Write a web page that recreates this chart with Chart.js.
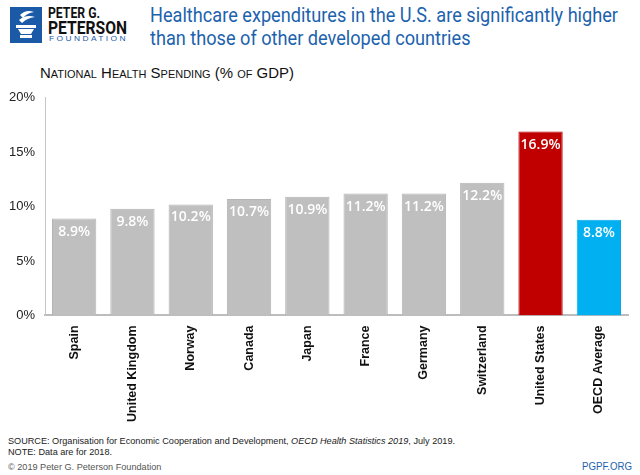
<!DOCTYPE html>
<html>
<head>
<meta charset="utf-8">
<script src="https://cdn.jsdelivr.net/npm/chart.js@4"></script>
<style>
  body { margin: 0; width: 640px; height: 475px; background: #fff; position: relative; overflow: hidden; font-family: "Liberation Sans", Arial, sans-serif; }
  .abs { position: absolute; white-space: nowrap; transform-origin: 0 0; }
  #logo { left: 10px; top: 7px; width: 32px; height: 36px; background: #1b5aa6; }
  #org1 { left: 48px; top: 5px; font: bold 14px Roboto, sans-serif; color: #111; }
  #org2 { left: 48px; top: 16px; font: bold 19px Roboto, sans-serif; color: #111; }
  #org3 { left: 49px; top: 34px; font: 8px "Liberation Sans", sans-serif; letter-spacing: 2.3px; color: #1b5aa6; }
  .title { left: 150px; font: 20px Roboto, sans-serif; color: #1c62ad; }
  #subtitle { left: 40px; top: 64px; font: 15px "Liberation Sans", sans-serif; font-variant: small-caps; color: #111; }
  #chartbox { left: 0; top: 80px; width: 640px; height: 352px; }
  .foot { left: 8px; font: 9.5px "Liberation Sans", sans-serif; color: #222; }
  #pgpf { left: 582px; top: 461px; font: 10px "Liberation Sans", sans-serif; color: #1c62ad; }
</style>
</head>
<body>
<div id="logo" class="abs">
  <svg width="32" height="36" viewBox="0 0 32 36">
    <path d="M10 8 Q16 2 24 5 Q17 6 13 11 Z" fill="#fff"/>
    <path d="M9 13 Q16 7 25 10 Q17 11 12 16 Z" fill="#fff"/>
    <rect x="6" y="18" width="20" height="3" fill="#fff"/>
    <path d="M8 22 L24 22 L21 27 L11 27 Z" fill="#fff"/>
    <rect x="10" y="28" width="12" height="3" fill="#fff"/>
  </svg>
</div>
<div id="org1" class="abs" data-w="52">PETER G.</div>
<div id="org2" class="abs" data-w="79">PETERSON</div>
<div id="org3" class="abs" data-w="79">FOUNDATION</div>
<div class="abs title" style="top:3px" data-w="468">Healthcare expenditures in the U.S. are significantly higher</div>
<div class="abs title" style="top:26px" data-sx="title1">than those of other developed countries</div>
<div id="subtitle" class="abs" data-w="254">National Health Spending (% of GDP)</div>
<div id="chartbox" class="abs"><canvas id="health_chart" width="640" height="352"></canvas></div>
<div class="abs foot" style="top:435px" data-w="447">SOURCE: Organisation for Economic Cooperation and Development, <i>OECD Health Statistics 2019</i>, July 2019.</div>
<div class="abs foot" style="top:446px" data-sx="foot">NOTE: Data are for 2018.</div>
<div class="abs foot" style="top:461px; color:#555" data-sx="foot">© 2019 Peter G. Peterson Foundation</div>
<div id="pgpf" class="abs" data-w="50">PGPF.ORG</div>
<script>
const countries = ["Spain", "United Kingdom", "Norway", "Canada", "Japan", "France", "Germany", "Switzerland", "United States", "OECD Average"];
const spending = [8.9, 9.8, 10.2, 10.7, 10.9, 11.2, 11.2, 12.2, 16.9, 8.8];
const yTicks = [0, 5, 10, 15, 20];

// squeeze the header/footer text to the widths in the picture
let titleScale = 1, footScale = 1;
document.querySelectorAll("[data-w]").forEach(function (el) {
  const s = Number(el.dataset.w) / el.getBoundingClientRect().width;
  el.style.transform = "scaleX(" + s + ")";
  if (el.classList.contains("title")) titleScale = s;
  if (el.classList.contains("foot")) footScale = s;
});
document.querySelectorAll("[data-sx]").forEach(function (el) {
  const s = el.dataset.sx === "title1" ? titleScale : footScale;
  el.style.transform = "scaleX(" + s + ")";
});

const barColors = countries.map(function (c) {
  if (c === "United States") return "#c00000";
  if (c === "OECD Average") return "#00b0f0";
  return "#bfbfbf";
});
const barBorders = countries.map(function (c) {
  if (c === "United States") return "#b80000";
  if (c === "OECD Average") return "#08a8e6";
  return "#b4b4b4";
});

const valueLabels = {
  id: "valueLabels",
  afterDatasetsDraw: function (chart) {
    const ctx = chart.ctx;
    const meta = chart.getDatasetMeta(0);
    ctx.save();
    ctx.fillStyle = "#fff";
    ctx.font = "600 14px 'Open Sans', sans-serif";
    ctx.textAlign = "center";
    ctx.textBaseline = "middle";
    meta.data.forEach(function (bar, i) {
      ctx.fillText(spending[i].toFixed(1) + "%", bar.x, bar.y + 13);
    });
    ctx.restore();
  },
};

const ctx = document.getElementById("health_chart");
new Chart(ctx, {
  type: "bar",
  data: {
    labels: countries,
    datasets: [
      {
        data: spending,
        backgroundColor: barColors,
        borderColor: barBorders,
        borderWidth: 1,
        categoryPercentage: 1,
        barPercentage: 0.76,
      },
    ],
  },
  options: {
    responsive: false,
    animation: false,
    layout: { padding: { left: 0, right: 12, top: 5, bottom: 0 } },
    plugins: {
      legend: { display: false },
      tooltip: { enabled: false },
    },
    scales: {
      x: {
        grid: { display: false, drawTicks: false },
        border: { display: true, color: "#bdbdbd", width: 2 },
        ticks: {
          minRotation: 90,
          maxRotation: 90,
          padding: 10,
          color: "#111",
          font: { family: "'Liberation Sans', Arial, sans-serif", size: 12.5, weight: "bold" },
        },
      },
      y: {
        min: 0,
        max: 20,
        afterBuildTicks: function (axis) {
          axis.ticks = yTicks.map(function (v) { return { value: v }; });
        },
        afterFit: function (axis) {
          axis.width = 45;
        },
        grid: { display: false, drawTicks: false },
        border: { display: true, color: "#c4c4c4", width: 1 },
        ticks: {
          padding: 10,
          color: "#222",
          font: { family: "'Liberation Sans', Arial, sans-serif", size: 13 },
          callback: function (value) { return value + "%"; },
        },
      },
    },
  },
  plugins: [valueLabels],
});
</script>
</body>
</html>
